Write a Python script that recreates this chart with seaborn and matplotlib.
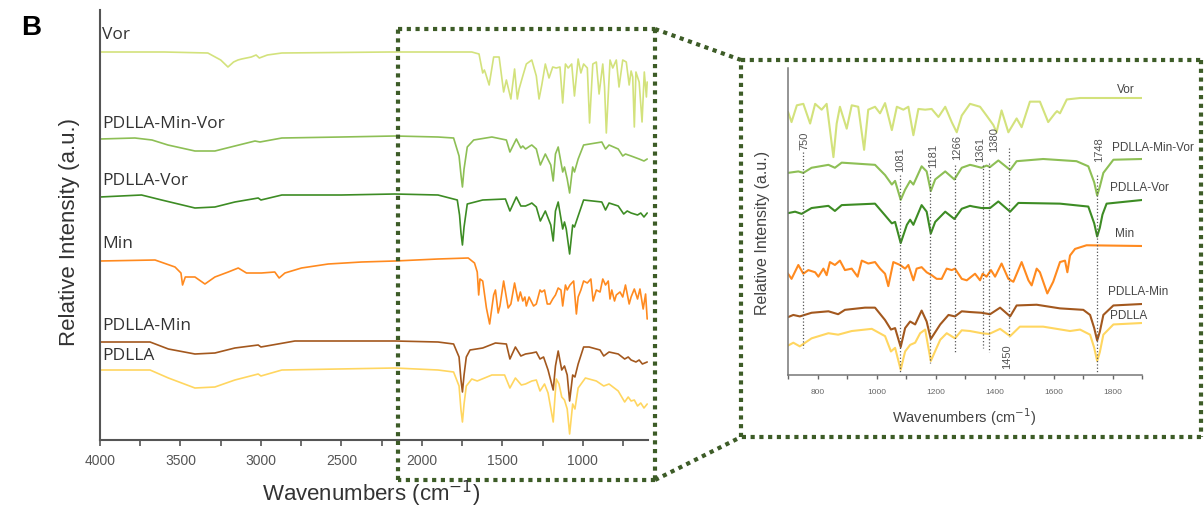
import pandas as pd
import seaborn as sns
import matplotlib.pyplot as plt
from matplotlib.lines import Line2D
from matplotlib.ticker import MultipleLocator

# Espectros FTIR (numero de onda, intensidad relativa; 0 = linea base)
vor_wn = [4000, 3600, 3330, 3250, 3205, 3170, 3143, 3120, 3060, 3030, 3010, 2960, 2870, 2200, 1900,
          1690, 1645, 1622, 1612, 1605, 1582, 1554, 1520, 1492, 1475, 1447, 1424, 1407, 1396, 1373,
          1351, 1317, 1289, 1272, 1255, 1233, 1210, 1187, 1165, 1142, 1125, 1108, 1091, 1069, 1052,
          1029, 1012, 995, 972, 958, 938, 916, 899, 876, 865, 854, 831, 814, 792, 775, 752, 730, 712,
          700, 690, 680, 670, 650, 632, 618, 605, 600]
vor_int = [0, 0, -1, -8, -15, -10, -8, -7, -5, -3, -6, -3, -1, 0, 0,
           0, -2, -21, -18, -21, -33, -5, -5, -40, -28, -47, -17, -47, -37, -24,
           -12, -8, -24, -47, -33, -12, -26, -15, -16, -15, -51, -12, -16, -12, -44,
           -7, -21, -12, -16, -71, -12, -10, -42, -12, -35, -81, -8, -16, -8, -35, -8, -10, -33,
           -19, -25, -75, -20, -30, -70, -20, -45, -30]

pmv_wn = [4000, 3783, 3677, 3578, 3410, 3286, 3162, 3037, 3006, 2870, 2500, 2168, 1900, 1803, 1769,
          1757, 1748, 1738, 1718, 1678, 1565, 1475, 1453, 1413, 1385, 1373, 1356, 1328, 1317, 1289,
          1264, 1233, 1199, 1184, 1170, 1153, 1125, 1114, 1097, 1082, 1063, 1052, 1029, 995, 882,
          859, 837, 780, 752, 735, 700, 650, 620, 600]
pmv_int = [-2, -1, -3, -8, -14, -14, -9, -4, -5, -1, 0, 1, 0, -1, -19,
           -38, -50, -32, -10, -3, 0, -3, -15, -2, -11, -9, -12, -9, -8, -12,
           -28, -17, -28, -44, -17, -10, -35, -30, -42, -56, -30, -35, -22, -8, -5,
           -12, -8, -12, -19, -17, -19, -22, -24, -22]

pv_wn = [4000, 3742, 3617, 3410, 3286, 3162, 3017, 3000, 2870, 2500, 2168, 1900, 1780, 1766, 1757,
         1748, 1738, 1718, 1622, 1481, 1453, 1413, 1385, 1356, 1328, 1317, 1289, 1264, 1233, 1199,
         1184, 1170, 1153, 1125, 1114, 1103, 1082, 1063, 1052, 1029, 995, 882, 859, 837, 780,
         746, 724, 700, 660, 640, 620, 600]
pv_int = [-2, 0, -5, -13, -12, -7, -3, -5, 0, 0, 1, 0, -5, -20, -38,
          -50, -32, -9, -5, -4, -16, -2, -11, -11, -9, -8, -12, -26, -16, -30,
          -46, -16, -7, -34, -27, -34, -59, -30, -32, -21, -5, -7, -15, -8, -11,
          -19, -16, -18, -20, -18, -22, -18]

min_wn = [4000, 3658, 3534, 3497, 3487, 3470, 3410, 3348, 3286, 3203, 3141, 3090, 2997, 2914, 2887,
          2851, 2748, 2582, 2375, 2168, 1900, 1712, 1673, 1656, 1647, 1639, 1622, 1599, 1579, 1554,
          1543, 1526, 1515, 1492, 1464, 1447, 1424, 1402, 1388, 1373, 1360, 1351, 1334, 1306, 1289,
          1266, 1255, 1238, 1221, 1204, 1187, 1170, 1153, 1136, 1125, 1108, 1097, 1080, 1057, 1040,
          1029, 1012, 995, 972, 950, 936, 916, 893, 876, 859, 842, 831, 820, 803, 792,
          769, 752, 735, 712, 700, 680, 660, 645, 625, 610, 600]
min_int = [-2, -1, -8, -14, -26, -18, -18, -25, -18, -13, -9, -14, -14, -13, -19,
           -14, -9, -5, -3, -2, 0, 1, -4, -13, -36, -20, -22, -49, -65, -36,
           -31, -54, -47, -22, -49, -45, -24, -42, -33, -42, -38, -47, -38, -47, -45,
           -31, -33, -31, -45, -45, -40, -36, -29, -31, -47, -26, -31, -26, -22, -55,
           -38, -31, -22, -24, -20, -42, -31, -33, -20, -26, -22, -40, -31, -42, -36,
           -33, -38, -26, -45, -38, -30, -40, -30, -50, -35, -60]

pm_wn = [4000, 3689, 3575, 3410, 3286, 3162, 3017, 3000, 2789, 2168, 1900, 1803, 1769, 1757, 1748,
         1738, 1724, 1701, 1622, 1543, 1475, 1453, 1419, 1385, 1356, 1317, 1289, 1266, 1244, 1216,
         1184, 1170, 1153, 1131, 1114, 1097, 1082, 1063, 1049, 1029, 995, 961, 893, 870, 837,
         780, 740, 718, 700, 670, 650, 630, 600]
pm_int = [0, 0, -7, -12, -11, -6, -3, -5, 1, 1, 0, -2, -15, -38, -50,
          -33, -15, -8, -6, -1, -2, -17, -5, -14, -12, -11, -10, -17, -15, -28,
          -48, -24, -9, -28, -24, -33, -59, -33, -35, -22, -5, -5, -8, -14, -10,
          -12, -17, -15, -18, -20, -18, -22, -20]

p_wn = [4000, 3689, 3575, 3410, 3286, 3162, 3017, 3000, 2870, 2168, 1900, 1803, 1769, 1757, 1748,
        1738, 1724, 1690, 1656, 1565, 1486, 1453, 1419, 1382, 1356, 1317, 1289, 1266, 1238, 1216,
        1184, 1165, 1148, 1131, 1114, 1097, 1082, 1063, 1049, 1029, 984, 916, 870, 837, 780,
        740, 718, 700, 680, 660, 640, 620, 600]
p_int = [0, 0, -8, -18, -17, -10, -4, -6, 0, 2, 0, -2, -16, -40, -52,
         -34, -16, -9, -11, -5, -5, -18, -8, -15, -14, -11, -10, -21, -14, -23,
         -52, -9, -14, -27, -30, -39, -64, -34, -39, -18, -8, -11, -16, -14, -21,
         -32, -27, -31, -30, -36, -33, -38, -34]

samples = ['Vor', 'PDLLA-Min-Vor', 'PDLLA-Vor', 'Min', 'PDLLA-Min', 'PDLLA']
colors = ['#d3e27c', '#8dbf55', '#3d8c24', '#ff8a1f', '#a3581e', '#ffd660']
peaks = [750, 1081, 1181, 1266, 1361, 1380, 1450, 1748]

spectra = {'Vor': (vor_wn, vor_int), 'PDLLA-Min-Vor': (pmv_wn, pmv_int),
           'PDLLA-Vor': (pv_wn, pv_int), 'Min': (min_wn, min_int),
           'PDLLA-Min': (pm_wn, pm_int), 'PDLLA': (p_wn, p_int)}

rows = []
for s in samples:
    for w, v in zip(*spectra[s]):
        rows.append({'sample': s, 'wn': w, 'val': v})
df = pd.DataFrame(rows)

# Posiciones (en pixeles de la figura) de cada linea base
W, H = 1204, 512
main_base = {'Vor': 52, 'PDLLA-Min-Vor': 137, 'PDLLA-Vor': 195, 'Min': 259, 'PDLLA-Min': 342, 'PDLLA': 370}
inset_base = {'Vor': 98, 'PDLLA-Min-Vor': 159, 'PDLLA-Vor': 200, 'Min': 246, 'PDLLA-Min': 304, 'PDLLA': 323}
df['y_main'] = 440 - df['sample'].map(main_base) + df['val']
df['y_inset'] = 375 - df['sample'].map(inset_base) + 0.73 * df['val']
pal = dict(zip(samples, colors))

sns.set_style('white')
plt.rcParams['font.family'] = ['Liberation Sans', 'DejaVu Sans']

def fp(x, y):
    return x / W, 1 - y / H

fig = plt.figure(figsize=(12.04, 5.12), dpi=100)

# Grafico principal
ax = fig.add_axes([100 / W, 1 - 440 / H, 548 / W, 430 / H])
sns.lineplot(data=df, x='wn', y='y_main', hue='sample', palette=pal, estimator=None,
             sort=False, legend=False, linewidth=1.2, ax=ax)
ax.set_xlim(4000, 595)
ax.set_ylim(0, 430)
ax.set_yticks([])
ax.xaxis.set_major_locator(MultipleLocator(500))
ax.xaxis.set_minor_locator(MultipleLocator(250))
ax.tick_params(axis='x', which='both', direction='out', length=4, width=1.2,
               colors='#555555', labelsize=10, pad=6, bottom=True)
ax.set_xlabel('')
ax.set_ylabel('')
for side in ['top', 'right']:
    ax.spines[side].set_visible(False)
for side in ['left', 'bottom']:
    ax.spines[side].set_color('#555555')
    ax.spines[side].set_linewidth(1.5)

main_lbl_y = [35, 124, 181, 244, 326, 356]
for s, yy in zip(samples, main_lbl_y):
    fig.text(*fp(102, yy), s, ha='left', va='center', fontsize=12.5, color='#333333',
             family=['Open Sans', 'DejaVu Sans'])
fig.text(*fp(262, 494), r'Wavenumbers (cm$^{-1}$)', ha='left', va='center', fontsize=16, color='#333333')
fig.text(*fp(70, 232), 'Relative Intensity (a.u.)', ha='center', va='center', rotation=90,
         fontsize=16, color='#333333')
fig.text(*fp(31, 28), 'B', ha='center', va='center', fontsize=20, fontweight='bold', color='black')

# Ampliacion
axi = fig.add_axes([788 / W, 1 - 375 / H, 354 / W, 307 / H])
sns.lineplot(data=df, x='wn', y='y_inset', hue='sample', palette=pal, estimator=None,
             sort=False, legend=False, linewidth=1.5, ax=axi)
axi.set_xlim(700, 1900)
axi.set_ylim(0, 307)
axi.set_yticks([])
axi.xaxis.set_major_locator(MultipleLocator(200))
axi.xaxis.set_minor_locator(MultipleLocator(100))
axi.tick_params(axis='x', which='both', direction='out', length=3, width=1,
                colors='#666666', labelsize=6, pad=7, bottom=True)
axi.set_xlabel('')
axi.set_ylabel('')
for side in ['top', 'right']:
    axi.spines[side].set_visible(False)
for side in ['left', 'bottom']:
    axi.spines[side].set_color('#777777')
    axi.spines[side].set_linewidth(1.1)

peak_top = [152, 175, 170, 165, 165, 163, 148, 175]
peak_bot = [348, 372, 363, 353, 348, 352, 337, 372]
peak_lbl = [141, 160, 156, 147, 150, 140, 357, 150]
peak_dx = [2, 0, 3, 2, -3, 5, -2, 2]
for p, t, b, l, dx in zip(peaks, peak_top, peak_bot, peak_lbl, peak_dx):
    axi.plot([p, p], [375 - t, 375 - b], color='#555555', linestyle=':', linewidth=0.9)
    axi.text(p + dx * 3.39, 375 - l, str(p), rotation=90, ha='center', va='center', fontsize=8,
             color='#555555', clip_on=False)

inset_lbl = [(1117, 90), (1112, 148), (1110, 188), (1115, 234), (1108, 292), (1110, 316)]
for s, (xx, yy) in zip(samples, inset_lbl):
    fig.text(*fp(xx, yy), s, ha='left', va='center', fontsize=8.5, color='#444444')
fig.text(*fp(964, 417), r'Wavenumbers (cm$^{-1}$)', ha='center', va='center', fontsize=10.5, color='#444444')
fig.text(*fp(762, 233), 'Relative Intensity (a.u.)', ha='center', va='center', rotation=90,
         fontsize=11.5, color='#444444')

# Recuadros punteados y lineas de union
box = dict(color='#3d5c27', linewidth=3, linestyle=(0, (1, 1.1)))
segs = [[(398, 29), (655, 29)], [(655, 29), (655, 480)], [(655, 480), (398, 480)], [(398, 480), (398, 29)],
        [(741, 60), (1201, 60)], [(1201, 60), (1201, 437)], [(1201, 437), (741, 437)], [(741, 437), (741, 60)],
        [(655, 29), (741, 60)], [(655, 480), (741, 437)]]
for (x0, y0), (x1, y1) in segs:
    a, b = fp(x0, y0)
    c, d = fp(x1, y1)
    fig.add_artist(Line2D([a, c], [b, d], transform=fig.transFigure, **box))

fig.savefig('out.png', dpi=100)
